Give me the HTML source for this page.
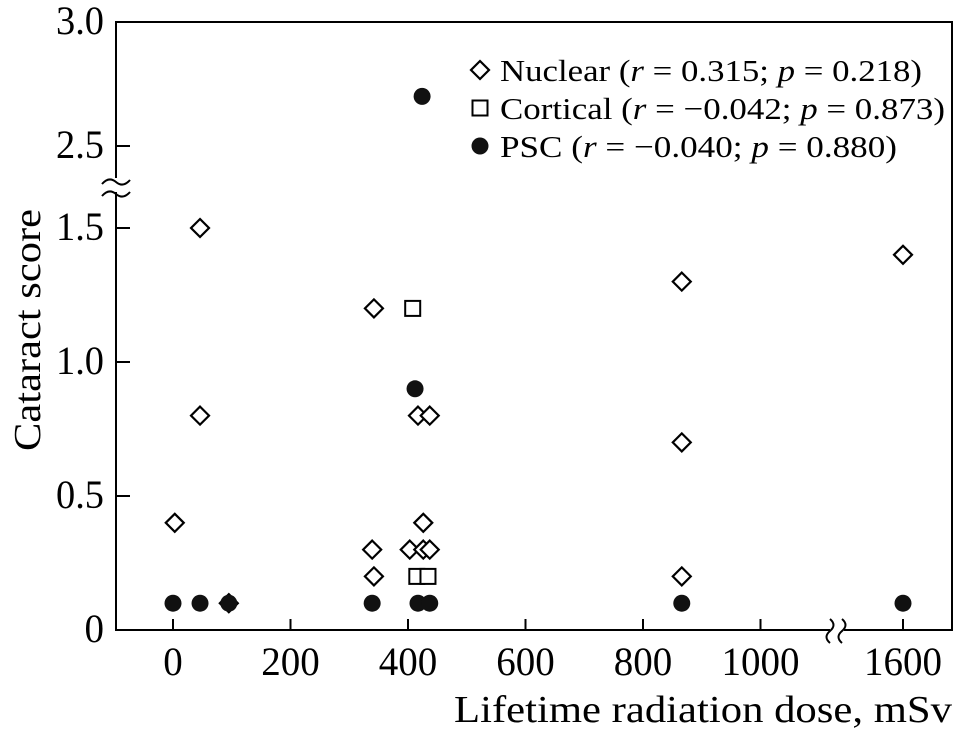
<!DOCTYPE html>
<html><head><meta charset="utf-8"><style>
body{margin:0;background:#fff;}
svg{display:block;font-family:"Liberation Serif",serif;}
</style></head><body>
<svg id="chart" width="957" height="735" viewBox="0 0 957 735">
<rect x="0" y="0" width="957" height="735" fill="#fff"/>
<g id="marks"></g>
<g id="axes"></g>
<g id="legend"></g>
</svg>
<script>
const xTicks = [0, 200, 400, 600, 800, 1000, 1600];
const yTicks = [0, 0.5, 1.0, 1.5, 2.5, 3.0];
const yTickLabels = ["0", "0.5", "1.0", "1.5", "2.5", "3.0"];
const nuclearX = [3, 46, 46, 342, 339, 342, 403, 417, 437, 426, 426, 437, 866, 866, 866, 1600, 95];
const nuclearY = [0.4, 1.5, 0.8, 1.2, 0.3, 0.2, 0.3, 0.8, 0.8, 0.4, 0.3, 0.3, 1.3, 0.7, 0.2, 1.4, 0.1];
const corticalX = [408, 415, 434];
const corticalY = [1.2, 0.2, 0.2];
const pscX = [0, 46, 95, 339, 417, 437, 412, 424, 866, 1600];
const pscY = [0.1, 0.1, 0.1, 0.1, 0.1, 0.1, 0.9, 2.7, 0.1, 0.1];

const NS = "http://www.w3.org/2000/svg";
const L = 116, R = 952, T = 22, B = 630;
function xs(v){ return v <= 1100 ? 173 + v * 0.5875 : 903 + (v - 1600) * 0.5875; }
function ys(v){ return v <= 2 ? B - v * 268 : 146 - (v - 2.5) * 248; }
function mk(tag, attrs, parent){ const e = document.createElementNS(NS, tag); for (const k in attrs) e.setAttribute(k, attrs[k]); parent.appendChild(e); return e; }
function lblLen(s){ let w = 0; for (const c of s) w += (c === '.' ? 9 : 19.5); return w; }
const marks = document.getElementById('marks'), axes = document.getElementById('axes'), legend = document.getElementById('legend');

let fr = mk('path', {d:`M${L},${T} H${R} V${B} H${L} Z`, fill:'none', stroke:'#000', 'stroke-width':2}, axes);


let m1 = mk('rect', {x:L-8, y:178, width:16, height:14, fill:'#fff'}, axes);


let s1 = mk('path', {d:`M${L-14},184 q7,-8 14,-2 t14,-2 M${L-14},196 q7,-8 14,-2 t14,-2`, fill:'none', stroke:'#000', 'stroke-width':2}, axes);


let m2 = mk('rect', {x:830, y:622, width:14, height:16, fill:'#fff'}, axes);


let s2 = mk('path', {d:`M830,643 q-7,-6 0,-12 t0,-12 M842,643 q-7,-6 0,-12 t0,-12`, fill:'none', stroke:'#000', 'stroke-width':2}, axes);



xTicks.forEach((v, i) => {
  const x = xs(v);
  const t = mk('line', {x1:x, x2:x, y1:B, y2:B-11, stroke:'#000', 'stroke-width':2}, axes);
  
  
  const s = String(v);
  const tx = mk('text', {x:x, y:675, 'text-anchor':'middle', 'font-size':40, textLength:lblLen(s), lengthAdjust:'spacingAndGlyphs'}, axes);
  tx.textContent = s;
  
  
});
yTicks.forEach((v, i) => {
  const y = ys(v);
  const t = mk('line', {x1:L, x2:L+14, y1:y, y2:y, stroke:'#000', 'stroke-width':2}, axes);
  
  
  const s = yTickLabels[i];
  const tx = mk('text', {x:104, y:y+12, 'text-anchor':'end', 'font-size':40, textLength:lblLen(s), lengthAdjust:'spacingAndGlyphs'}, axes);
  tx.textContent = s;
  
  
});
const xt = mk('text', {x:952, y:722, 'text-anchor':'end', 'font-size':38, textLength:498, lengthAdjust:'spacingAndGlyphs'}, axes);
xt.textContent = 'Lifetime radiation dose, mSv';


const yt = mk('text', {x:0, y:0, 'text-anchor':'middle', 'font-size':38, textLength:242, lengthAdjust:'spacingAndGlyphs', transform:'translate(40,330) rotate(-90)'}, axes);
yt.textContent = 'Cataract score';



function diamond(cx, cy, parent){ return mk('path', {d:`M${cx},${cy-9} L${cx+9},${cy} L${cx},${cy+9} L${cx-9},${cy} Z`, fill:'#fff', stroke:'#000', 'stroke-width':2.2}, parent); }
function square(cx, cy, parent){ return mk('rect', {x:cx-7.5, y:cy-7.5, width:15, height:15, fill:'#fff', stroke:'#000', 'stroke-width':2}, parent); }
function circle(cx, cy, parent){ return mk('circle', {cx:cx, cy:cy, r:8.5, fill:'#111'}, parent); }

nuclearX.forEach((v, i) => {
  const d = diamond(xs(v), ys(nuclearY[i]), marks);
  
  
});
corticalX.forEach((v, i) => {
  const s = square(xs(v), ys(corticalY[i]), marks);
  
  
});
pscX.forEach((v, i) => {
  const c = circle(xs(v), ys(pscY[i]), marks);
  
  
});

const legItems = [
  ['diamond', 'Nuclear (', '0.315', '0.218', 422],
  ['square', 'Cortical (', '\u22120.042', '0.873', 445],
  ['circle', 'PSC (', '\u22120.040', '0.880', 397]
];
legItems.forEach((it, i) => {
  const y = 70 + i * 38;
  const sym = it[0] === 'diamond' ? diamond(480, y, legend) : it[0] === 'square' ? square(480, y, legend) : circle(480, y, legend);
  
  
  const t = mk('text', {x:500, y:y+11, 'font-size':31, textLength:it[4], lengthAdjust:'spacingAndGlyphs'}, legend);
  t.innerHTML = `${it[1]}<tspan font-style="italic">r</tspan> = ${it[2]};  <tspan font-style="italic">p</tspan> = ${it[3]})`;
  
  
});
</script>
</body></html>
